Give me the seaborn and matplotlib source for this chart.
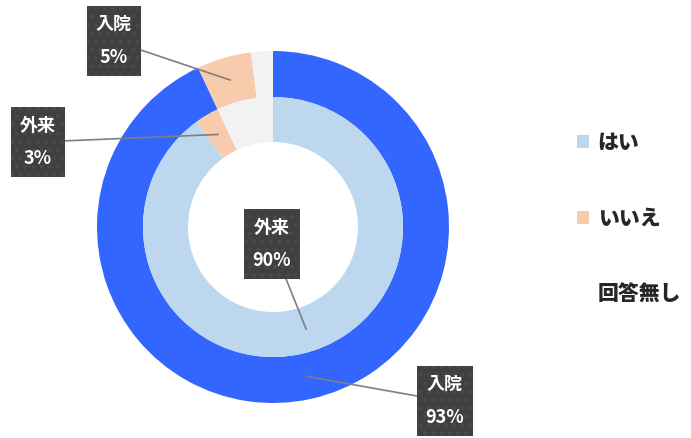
import numpy as np
import matplotlib.pyplot as plt
import seaborn as sns
from matplotlib.patches import Patch

# data
categories = ['はい', 'いいえ', '回答無し']
outpatient = [90, 3, 7]     # 外来 (inner ring)
inpatient = [93, 5, 2]      # 入院 (outer ring)

inner_colors = ['#BDD7EE', '#F8CBAD', '#F2F2F2']
outer_colors = ['#3366FF', '#F8CBAD', '#F2F2F2']

sns.set_theme(style='white')
plt.rcParams['font.family'] = ['Noto Sans CJK JP', 'DejaVu Sans']
plt.rcParams['hatch.linewidth'] = 1.5

W, H = 691, 438
fig = plt.figure(figsize=(W / 100, H / 100), dpi=100)
ax = fig.add_axes([0, 0, 1, 1])

cx, cy = 273, H - 227
r_out, r_mid, r_in = 176, 130, 85

ax.pie(inpatient, colors=outer_colors, radius=r_out, center=(cx, cy),
       startangle=90, counterclock=False, frame=True,
       wedgeprops=dict(width=r_out - r_mid, linewidth=0))
ax.pie(outpatient, colors=inner_colors, radius=r_mid, center=(cx, cy),
       startangle=90, counterclock=False, frame=True,
       wedgeprops=dict(width=r_mid - r_in, linewidth=0))
ax.set_xlim(0, W)
ax.set_ylim(0, H)
ax.set_aspect('equal')
ax.axis('off')


def mid_point(values, idx, radius):
    total = sum(values)
    start = sum(values[:idx]) / total
    frac = start + values[idx] / total / 2
    ang = np.deg2rad(90 - 360 * frac)
    return cx + radius * np.cos(ang), cy + radius * np.sin(ang)


def label(text, values, idx, radius, box_xy):
    ax.annotate(text, xy=mid_point(values, idx, radius),
                xytext=(box_xy[0], H - box_xy[1]),
                ha='center', va='center', color='white', fontsize=13,
                fontweight='bold', linespacing=1.95,
                bbox=dict(boxstyle='square,pad=0.5', fc='#404040',
                          ec='#4A4A4A', hatch='..', lw=0),
                arrowprops=dict(arrowstyle='-', color='#7F7F7F', lw=1.2,
                                shrinkA=0, shrinkB=0))


label('入院\n5%', inpatient, 1, (r_out + r_mid) / 2, (114, 41))
label('外来\n3%', outpatient, 1, (r_mid + r_in) / 2, (38, 142))
label('外来\n90%', outpatient, 0, (r_mid + r_in) / 2, (272, 244))
label('入院\n93%', inpatient, 0, (r_out + r_mid) / 2, (445, 401))

handles = [Patch(facecolor=c, edgecolor='none') for c in
           [inner_colors[0], inner_colors[1], 'white']]
leg = fig.legend(handles, categories, loc='upper left',
                 bbox_to_anchor=(558 / W, 1 - 114 / H), frameon=False,
                 prop={'size': 15, 'weight': 'black'},
                 handlelength=0.6, handleheight=0.6, handletextpad=0.4,
                 labelspacing=2.68)

fig.savefig('out.png', dpi=100)
